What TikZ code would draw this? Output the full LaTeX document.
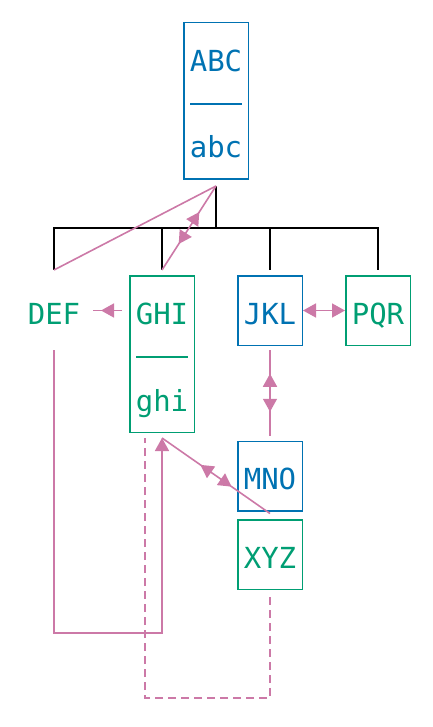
\documentclass[tikz,border=0pt]{standalone}
\usepackage{fontspec}
\newfontfamily\dvmono{DejaVu Sans Mono}
\usetikzlibrary{calc,arrows.meta,decorations.markings}
\definecolor{cblue}{RGB}{0,114,178}
\definecolor{cgreen}{RGB}{0,158,115}
\definecolor{cpink}{RGB}{204,121,167}
\tikzset{
  box/.style={draw=#1, line width=1.5pt, minimum width=64.5pt, inner sep=0pt},
  single/.style={minimum height=69.5pt},
  double/.style={minimum height=156.5pt},
  txt/.style={anchor=base, inner sep=0pt, font=\dvmono\fontsize{29}{34}\selectfont, text=#1},
  sepline/.style={draw=#1, line width=1.5pt},
  tree/.style={draw=black, line width=1.8pt},
  pk/.style={draw=cpink, line width=1.6pt},
  tip/.style={-{Triangle[length=13pt,width=14pt]}},
  bothtips/.style={{Triangle[length=13pt,width=14pt]}-{Triangle[length=13pt,width=14pt]}},
  midout/.style={postaction={decorate}, decoration={markings, mark=at position 0.5 with {
     \draw[pk, tip] (6pt,0) -- (19pt,0);
     \draw[pk, tip] (-6pt,0) -- (-19pt,0);}}},
  midone/.style={postaction={decorate}, decoration={markings, mark=at position 0.5 with {
     \draw[pk, tip] (-6.5pt,0) -- (6.5pt,0);}}},
}
\begin{document}
\begin{tikzpicture}[x=1pt,y=-1pt]
\useasboundingbox (0,0) rectangle (432,727);
% boxes
\node[box=cblue, double] (abc) at (216,101) {};
\node[box=cgreen, double] (ghi) at (162,354) {};
\node[box=white, draw=none, single] (def) at (54,310.5) {};
\node[box=cblue, single] (jkl) at (270,310.5) {};
\node[box=cgreen, single] (pqr) at (378,310.5) {};
\node[box=cblue, single] (mno) at (270,476) {};
\node[box=cgreen, single] (xyz) at (270,554.5) {};
% texts
\node[txt=cblue] (abct) at (216,72) {ABC};
\node[txt=cblue] (abcb) at (216,158) {abc};
\draw[sepline=cblue] (190,104) -- (242,104);
\node[txt=cgreen] (ghit) at (162,324) {GHI};
\node[txt=cgreen] (ghib) at (162,411) {ghi};
\draw[sepline=cgreen] (136,357) -- (188,357);
\node[txt=cgreen] (deft) at (54,324) {DEF};
\node[txt=cblue] (jklt) at (270,324) {JKL};
\node[txt=cgreen] (pqrt) at (378,324) {PQR};
\node[txt=cblue] (mnot) at (270,489) {MNO};
\node[txt=cgreen] (xyzt) at (270,568) {XYZ};
% tree
\draw[tree] ($(abc.south)+(0,6)$) -- ++(0,42) coordinate (tj);
\draw[tree] (tj) -| ($(def.north)+(0,-5)$);
\draw[tree] (tj) -| ($(ghi.north)+(0,-5)$);
\draw[tree] (tj) -| ($(jkl.north)+(0,-5)$);
\draw[tree] (tj) -| ($(pqr.north)+(0,-5)$);
% pink connectors
\draw[pk] ($(def.north)+(0,-5)$) -- ($(abc.south)+(0,6)$);
\draw[pk, midout] ($(ghi.north)+(0,-5)$) -- ($(abc.south)+(0,6)$);
\draw[pk, midone] ($(ghi.west |- def.east)+(-7,0)$) -- ($(def.east)+(6,0)$);
\draw[pk, bothtips] (jkl.east) -- (pqr.west);
\draw[pk, midout] ($(jkl.south)+(0,4)$) -- ($(mno.north)+(0,-5)$);
\draw[pk, midout] ($(ghi.south)+(0,5)$) -- ($(mno.south)+(0,2)$);
\draw[pk, tip] ($(def.south)+(0,4)$) -- ++(0,283) -| ($(ghi.south)+(0,5)$);
\draw[pk, dash pattern=on 8pt off 5pt] ($(xyz.south)+(0,7)$) -- ++(0,101) -| ($(ghi.south)+(-17,5)$);
\end{tikzpicture}
\end{document}
